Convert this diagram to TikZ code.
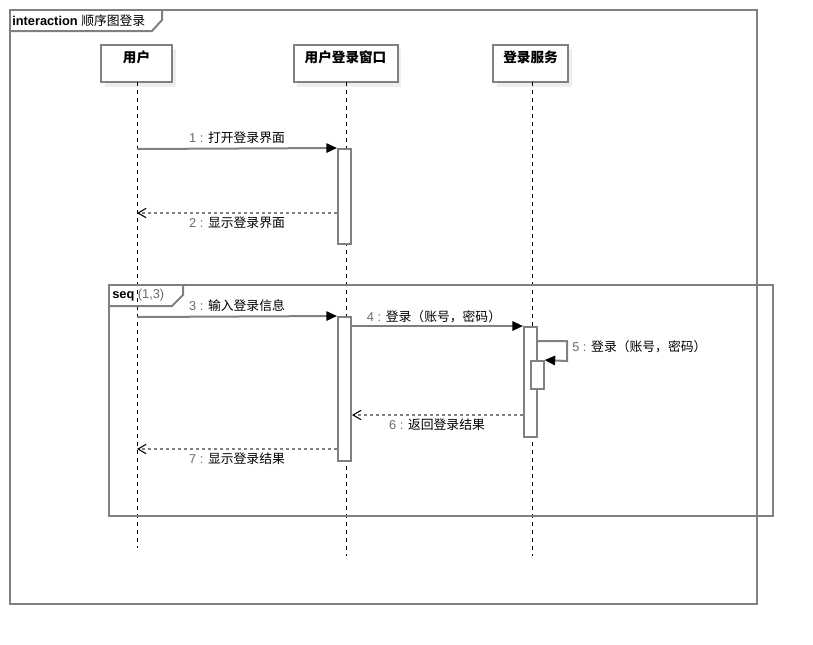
\documentclass[tikz,border=0pt]{standalone}
\usepackage{fontspec}
\setmainfont{Liberation Sans}
\newfontfamily\cjk{Noto Sans CJK SC}
\usetikzlibrary{arrows.meta}
\definecolor{lg}{HTML}{808080}
\definecolor{tg}{HTML}{6A6A6A}
\definecolor{shd}{HTML}{EEEEEE}
\newcommand\msglbl[2]{\textcolor{tg}{#1 :} {\cjk #2}}
\begin{document}
\begin{tikzpicture}[x=0.75pt,y=-0.75pt,
  frameline/.style={draw=lg,line width=1.5pt},
  headbox/.style={draw=lg,line width=1.5pt,fill=white,minimum height=27.75pt,inner sep=0pt},
  headtxt/.style={font=\cjk\bfseries\fontsize{10.2pt}{12pt}\selectfont,inner sep=0pt},
  life/.style={draw=black,line width=0.7pt,dash pattern=on 3pt off 3pt},
  actbox/.style={draw=lg,line width=1.5pt,fill=white,minimum width=9.75pt,inner sep=0pt},
  msg/.style={draw=lg,line width=1.5pt,-{Triangle[length=8pt,width=7pt,color=black,fill=black]}},
  ret/.style={draw=lg,line width=1.3pt,dash pattern=on 2.5pt off 2pt,-{Straight Barb[length=6pt,width=7pt,color=black,line width=0.8pt]}},
  lbl/.style={font=\fontsize{9.6pt}{11.5pt}\selectfont,inner sep=0pt}]
\useasboundingbox (0,0) rectangle (813,644);
% outer frame
\draw[frameline] (10,10) rectangle (757,604);
\draw[frameline] (10,31) -- (152,31) -- (162,20) -- (162,10);
\node[lbl,anchor=west] (title) at (12,20.5) {\textbf{interaction} {\cjk 顺序图登录}};
% head shadows
\fill[shd] (105,49) rectangle (176,87);
\fill[shd] (297,49) rectangle (401,87);
\fill[shd] (497,49) rectangle (572,87);
% lifelines
\coordinate (uend) at (137,548);
\coordinate (wend) at (346,556);
\coordinate (send) at (532,556);
\node[headbox,minimum width=53.25pt] (u) at (136.5,63.5) {};
\node[headbox,minimum width=78pt] (w) at (345.5,63.5) {};
\node[headbox,minimum width=56.25pt] (s) at (530.5,63.5) {};
\draw[life] (137,82) -- (uend);
\draw[life] (346,82) -- (wend);
\draw[life] (532,82) -- (send);
\node[headtxt] (ut) at (136.5,57) {用户};
\node[headtxt] (wt) at (345.5,57) {用户登录窗口};
\node[headtxt] (st) at (530.5,57) {登录服务};
% seq frame
\draw[frameline] (109,285) rectangle (773,516);
\draw[frameline] (109,306) -- (172,306) -- (183,295) -- (183,285);
\node[lbl,anchor=west] (seqt) at (112,295) {\textbf{seq} \textcolor{tg}{(1,3)}};
% activations
\node[actbox,minimum height=71.25pt] (a1) at (344.5,196.5) {};
\node[actbox,minimum height=108pt] (a2) at (344.5,389) {};
\node[actbox,minimum height=82.5pt] (a3) at (530.5,382) {};
\node[actbox,minimum height=21pt] (a4) at (537,375) {};
% message endpoints on lifelines
\coordinate (m1s) at (137,149);
\coordinate (m2e) at (137,213);
\coordinate (m3s) at (137,317);
\coordinate (m7e) at (137,449);
% messages
\draw[msg] (m1s) -- (a1.north west);
\node[lbl] (l1) at (237,138) {\msglbl{1}{打开登录界面}};
\draw[ret] (a1.west |- m2e) -- (m2e);
\node[lbl] (l2) at (237,222.5) {\msglbl{2}{显示登录界面}};
\draw[msg] (m3s) -- (a2.north west);
\node[lbl] (l3) at (237,306) {\msglbl{3}{输入登录信息}};
\draw[msg] (a2.east |- a3.north) -- (a3.north west);
\node[lbl] (l4) at (434,317) {\msglbl{4}{登录（账号，密码）}};
\draw[msg] (a3.east |- 0,341) -- (567,341) -- (567,361) -- (a4.north east);
\node[lbl,anchor=west] (l5) at (572,347) {\msglbl{5}{登录（账号，密码）}};
\draw[ret] (a3.west |- 0,415) -- (a2.east |- 0,415);
\node[lbl] (l6) at (437,425) {\msglbl{6}{返回登录结果}};
\draw[ret] (a2.west |- m7e) -- (m7e);
\node[lbl] (l7) at (237,459) {\msglbl{7}{显示登录结果}};
\end{tikzpicture}
\end{document}
